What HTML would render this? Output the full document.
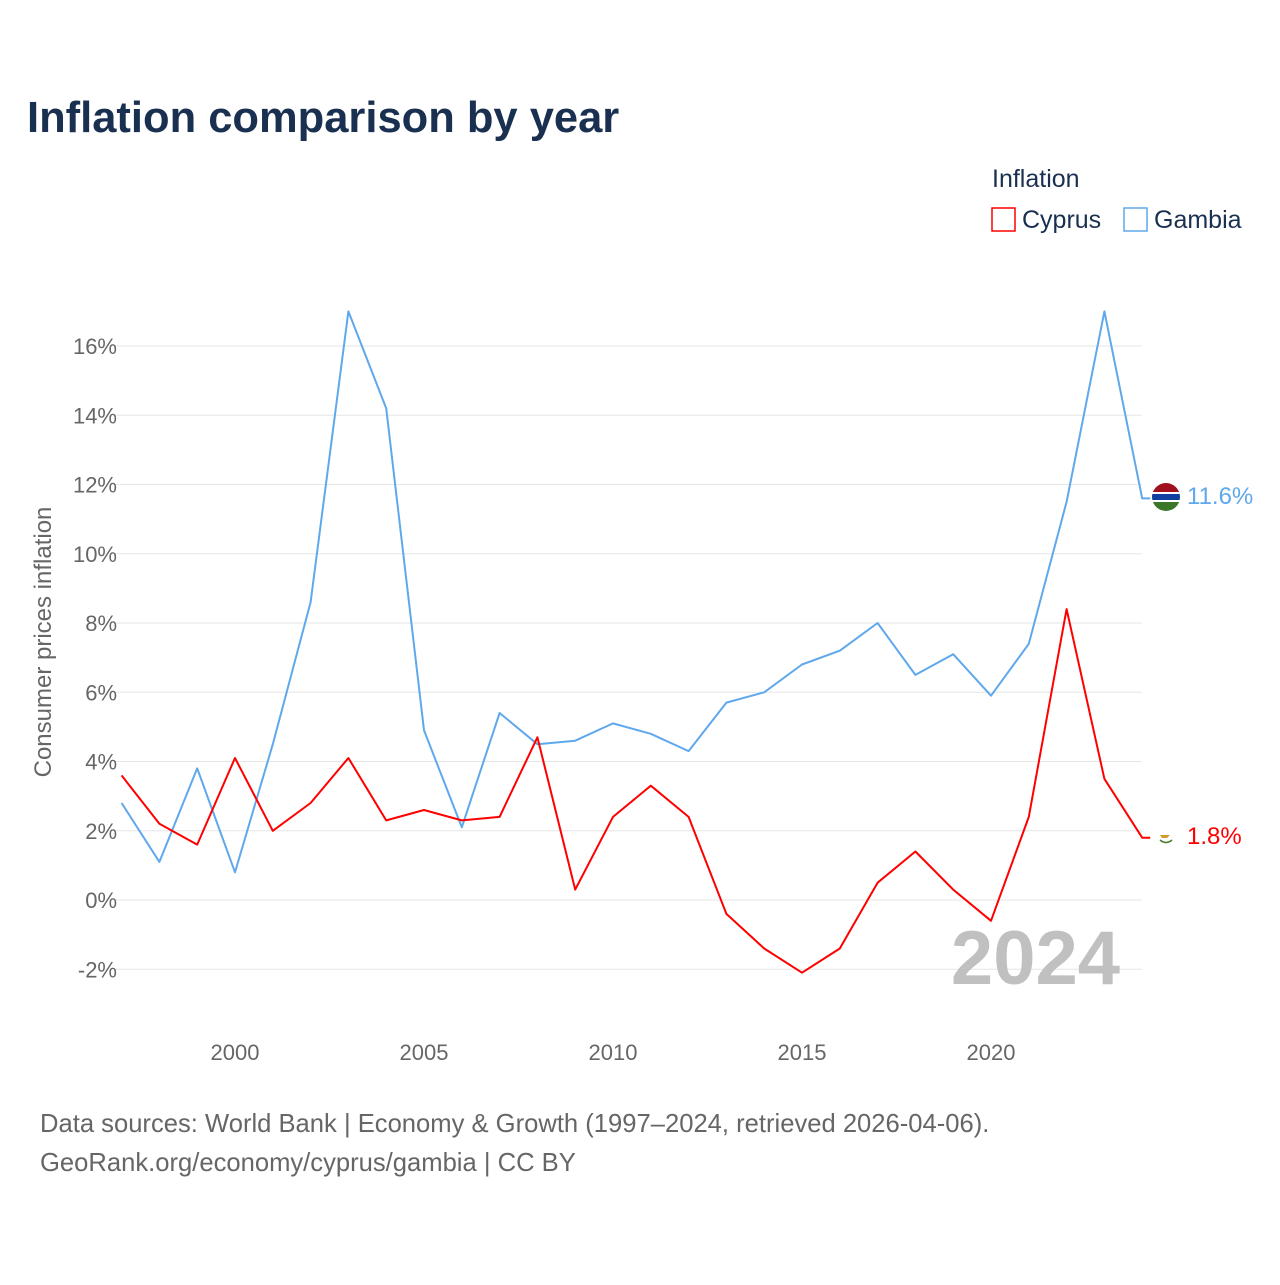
<!DOCTYPE html>
<html><head><meta charset="utf-8"><style>
body{margin:0;background:#fff;font-family:"Liberation Sans",sans-serif;}
</style></head><body>
<svg width="1280" height="1280" viewBox="0 0 1280 1280" xmlns="http://www.w3.org/2000/svg">
<text x="27" y="132" font-size="43.5" font-weight="bold" fill="#1a3050">Inflation comparison by year</text>
<text x="992" y="187" font-size="25" fill="#1a3050">Inflation</text>
<g><rect x="992" y="208" width="23" height="23" fill="none" stroke="#ff0000" stroke-width="1.5"/><text x="1022" y="228" font-size="25" fill="#1a3050">Cyprus</text></g>
<g><rect x="1124" y="208" width="23" height="23" fill="none" stroke="#5fa8ec" stroke-width="1.5"/><text x="1154" y="228" font-size="25" fill="#1a3050">Gambia</text></g>
<g id="grid"></g>
<g id="yt"></g>
<g id="xt"></g>
<text transform="translate(51,642) rotate(-90)" text-anchor="middle" font-size="24" fill="#666">Consumer prices inflation</text>
<text x="1120" y="984" text-anchor="end" font-size="76" font-weight="bold" fill="#c0c0c0">2024</text>
<g id="lines"></g>
<g><clipPath id="cg"><circle cx="1166" cy="497" r="14"/></clipPath><g clip-path="url(#cg)"><rect x="1150" y="482" width="32" height="10" fill="#a0101f"/><rect x="1150" y="492" width="32" height="2" fill="#fff"/><rect x="1150" y="494" width="32" height="6" fill="#1040a0"/><rect x="1150" y="500" width="32" height="2" fill="#fff"/><rect x="1150" y="502" width="32" height="10" fill="#3a7728"/></g></g>
<g><circle cx="1166" cy="837" r="8" fill="#fff"/><path d="M1160 835 h10 l-3 3 h-5z" fill="#d59b2a"/><path d="M1160 840 q6 5 12 0" stroke="#4a7a30" stroke-width="1.5" fill="none"/></g>
<text x="1187" y="504" font-size="24" fill="#5fa8ec">11.6%</text>
<text x="1187" y="844" font-size="24" fill="#ff0000">1.8%</text>
<text x="40" y="1132" font-size="25.6" fill="#666">Data sources: World Bank | Economy &amp; Growth (1997–2024, retrieved 2026-04-06).</text>
<text x="40" y="1171" font-size="25.6" fill="#666">GeoRank.org/economy/cyprus/gambia | CC BY</text>
</svg>
<script>
const years=[1997,1998,1999,2000,2001,2002,2003,2004,2005,2006,2007,2008,2009,2010,2011,2012,2013,2014,2015,2016,2017,2018,2019,2020,2021,2022,2023,2024];
const gambia=[2.8,1.1,3.8,0.8,4.5,8.6,17.0,14.2,4.9,2.1,5.4,4.5,4.6,5.1,4.8,4.3,5.7,6.0,6.8,7.2,8.0,6.5,7.1,5.9,7.4,11.5,17.0,11.6];
const cyprus=[3.6,2.2,1.6,4.1,2.0,2.8,4.1,2.3,2.6,2.3,2.4,4.7,0.3,2.4,3.3,2.4,-0.4,-1.4,-2.1,-1.4,0.5,1.4,0.3,-0.6,2.4,8.4,3.5,1.8];
const yTicks=[-2,0,2,4,6,8,10,12,14,16];
const xTicks=[2000,2005,2010,2015,2020];
const NS="http://www.w3.org/2000/svg";
const xS=y=>121.6+(y-1997)*37.8;
const yS=v=>900-v*34.625;
function mk(t,a,p){const e=document.createElementNS(NS,t);for(const k in a)e.setAttribute(k,a[k]);document.getElementById(p).appendChild(e);return e;}
yTicks.forEach(v=>{
const l=mk('line',{x1:115,x2:1142,y1:yS(v),y2:yS(v),stroke:'#e6e6e6','stroke-width':1},'grid');


const t=mk('text',{x:117,y:yS(v)+8,'text-anchor':'end','font-size':22,fill:'#666'},'yt');
t.textContent=v+'%';


});
xTicks.forEach(y=>{
const t=mk('text',{x:xS(y),y:1060,'text-anchor':'middle','font-size':22,fill:'#666'},'xt');
t.textContent=y;


});
function line(vals,col,name){
let d=vals.map((v,i)=>(i?'L':'M')+xS(years[i]).toFixed(1)+' '+yS(v).toFixed(1)).join(' ');
d+=' h8';
const p=mk('path',{d:d,fill:'none',stroke:col,'stroke-width':2,'stroke-linejoin':'round'},'lines');


}
line(gambia,'#5fa8ec','gambia-line');
line(cyprus,'#ff0000','cyprus-line');
</script>
</body></html>
